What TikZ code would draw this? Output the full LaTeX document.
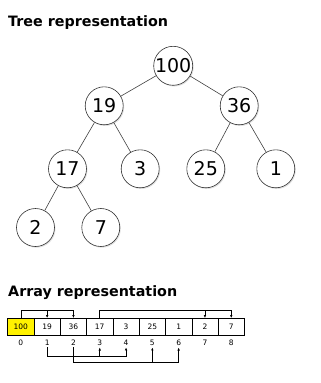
\documentclass[tikz,border=0pt]{standalone}
\usepackage{fontspec}
\setmainfont{DejaVu Sans}
\usetikzlibrary{arrows.meta, shadows}

\begin{document}
\begin{tikzpicture}[x=1pt, y=-1pt, >={Latex[length=3pt, width=2.6pt]},
    treenode/.style={circle, draw=black!80, line width=0.6pt, fill=white,
        minimum size=38pt, inner sep=0pt, font=\fontsize{19}{19}\selectfont,
        drop shadow={shadow xshift=1pt, shadow yshift=-1.2pt, opacity=0.25}},
    cell/.style={draw=black, line width=0.6pt, minimum width=26.3pt,
        minimum height=17.3pt, inner sep=0pt, font=\fontsize{7.5}{7.5}\selectfont},
    idx/.style={inner sep=2pt, font=\fontsize{7.5}{7.5}\selectfont},
    edge/.style={black!75, line width=0.6pt},
    brk/.style={black, line width=0.7pt}]

    \useasboundingbox (0,0) rectangle (321,383);

    % ===== TITLES =====
    \node[anchor=base west, inner sep=0pt, font=\fontsize{14.3}{14.3}\selectfont\bfseries]
        (treetitle) at (8,26.5) {Tree representation};
    \node[anchor=base west, inner sep=0pt, font=\fontsize{14.3}{14.3}\selectfont\bfseries]
        (arraytitle) at (8,296.5) {Array representation};

    % ===== TREE =====
    \node[treenode] (n100) at (173.2,65.8)  {100};
    \node[treenode] (n19)  at (104.2,105.8) {19};
    \node[treenode] (n36)  at (239.2,105.8) {36};
    \node[treenode] (n17)  at (67.5,168.8)  {17};
    \node[treenode] (n3)   at (140.2,168.8) {3};
    \node[treenode] (n25)  at (205.8,168.8) {25};
    \node[treenode] (n1)   at (275.8,168.8) {1};
    \node[treenode] (n2)   at (35.5,227.5)  {2};
    \node[treenode] (n7)   at (100.8,227.5) {7};
    % parent -- child
    \draw[edge] (n100) -- (n19);
    \draw[edge] (n100) -- (n36);
    \draw[edge] (n19) -- (n17);
    \draw[edge] (n19) -- (n3);
    \draw[edge] (n36) -- (n25);
    \draw[edge] (n36) -- (n1);
    \draw[edge] (n17) -- (n2);
    \draw[edge] (n17) -- (n7);

    % ===== ARRAY =====
    \node[cell, fill=yellow] (c0) at (20.85,327) {100};
    \node[idx] (i0) at (20.85,342.5) {0};
    \foreach \val [count=\i from 1] in {19,36,17,3,25,1,2,7} {
        \node[cell] (c\i) at (20.85+26.3*\i,327) {\val};
        \node[idx] (i\i) at (20.85+26.3*\i,342.5) {\i};
    }

    % children links above the cells
    \coordinate (ta) at (0,310.7);
    \draw[brk,->] (c0.north) |- (c2.north |- ta) -- (c2.north);
    \draw[brk,->] (c1.north |- ta) -- (c1.north);
    \draw[brk,->] (c3.north) |- (c8.north |- ta) -- (c8.north);
    \draw[brk,->] (c7.north |- ta) -- (c7.north);

    % children links below the indices
    \coordinate (b1) at (0,356.7);
    \coordinate (b2) at (0,362.3);
    \draw[brk,->] (i1.south) |- (i4.south |- b1) -- (i4.south);
    \draw[brk,->] (i3.south |- b1) -- (i3.south);
    \draw[brk,->] (i2.south) |- (i6.south |- b2) -- (i6.south);
    \draw[brk,->] (i5.south |- b2) -- (i5.south);

\end{tikzpicture}
\end{document}
